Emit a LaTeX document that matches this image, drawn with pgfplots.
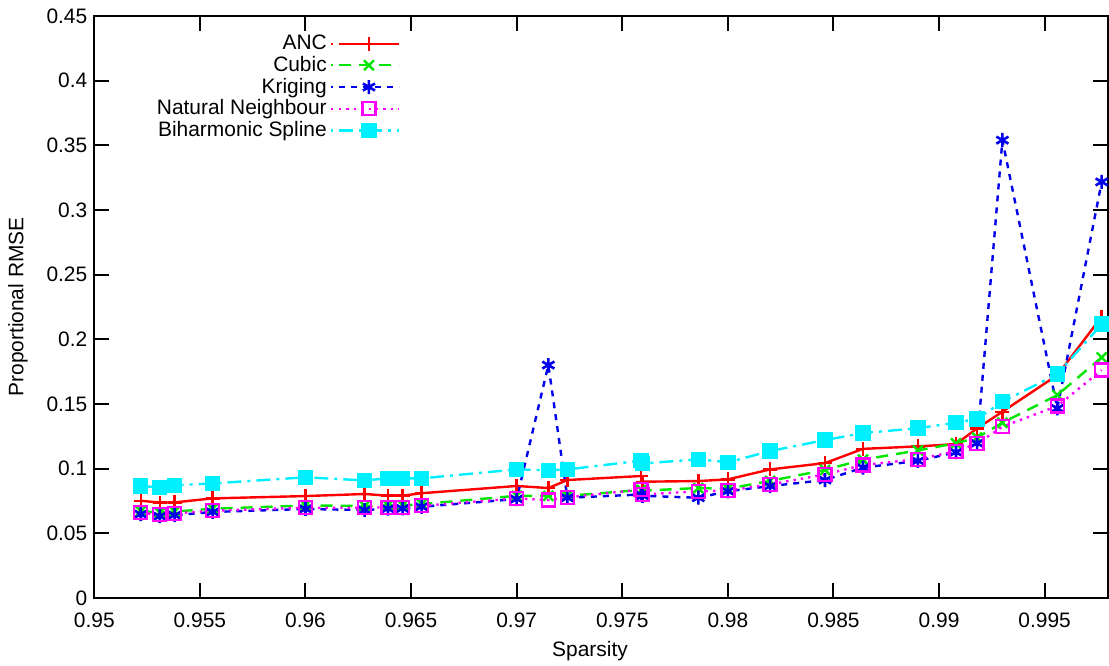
\documentclass[border=0pt]{standalone}
\usepackage{fontspec}
\setmainfont{Liberation Sans}
\usepackage{pgfplots}
\usepackage{pgfplotstable}
\pgfplotsset{compat=1.18}
\definecolor{ancred}{RGB}{255,0,0}
\definecolor{cubgreen}{RGB}{0,230,0}
\definecolor{krigblue}{RGB}{0,0,235}
\definecolor{nnmag}{RGB}{255,0,255}
\definecolor{bihcyan}{RGB}{0,240,255}

% sparsity, ANC, Cubic, Kriging, Natural Neighbour, Biharmonic Spline
\pgfplotstableread{
x       anc     cub     krig    nn      bih
0.9522  0.0752  0.0672  0.0648  0.0659  0.0866
0.9531  0.0737  0.0660  0.0632  0.0644  0.0855
0.9538  0.0739  0.0668  0.0640  0.0654  0.0871
0.9556  0.0770  0.0690  0.0665  0.0675  0.0886
0.9600  0.0788  0.0715  0.0688  0.0698  0.0933
0.9628  0.0804  0.0712  0.0680  0.0698  0.0909
0.9639  0.0791  0.0716  0.0690  0.0701  0.0925
0.9646  0.0791  0.0716  0.0692  0.0701  0.0925
0.9655  0.0810  0.0726  0.0705  0.0713  0.0925
0.9700  0.0866  0.0790  0.0765  0.0770  0.0994
0.9715  0.0850  0.0790  0.1801  0.0757  0.0987
0.9724  0.0912  0.0790  0.0775  0.0778  0.0994
0.97589 0.0943  0.0835  0.0800  0.0838  0.1062
0.97596 0.0899  0.0830  0.0790  0.0800  0.1040
0.9786  0.0904  0.0850  0.0775  0.0825  0.1072
0.9800  0.0917  0.0845  0.0825  0.0830  0.1049
0.9820  0.0994  0.0905  0.0865  0.0878  0.1136
0.9846  0.1043  0.0990  0.0912  0.0955  0.1221
0.9864  0.1153  0.1070  0.1008  0.1028  0.1275
0.9890  0.1172  0.1141  0.1060  0.1073  0.1313
0.9908  0.1190  0.1196  0.1127  0.1134  0.1355
0.9918  0.1311  0.1240  0.1196  0.1193  0.1385
0.9930  0.1440  0.1355  0.3540  0.1324  0.1517
0.9956  0.1723  0.1569  0.1466  0.1484  0.1731
0.9977  0.2174  0.1860  0.3217  0.1762  0.2117
}\datatable

\begin{document}
\begin{tikzpicture}[font=\fontsize{10.5}{12}\selectfont]
\begin{axis}[
    scale only axis,
    width=506.85bp,
    height=291bp,
    xmin=0.95, xmax=0.998,
    ymin=0, ymax=0.45,
    xtick={0.95,0.955,0.96,0.965,0.97,0.975,0.98,0.985,0.99,0.995},
    xticklabels={0.95,0.955,0.96,0.965,0.97,0.975,0.98,0.985,0.99,0.995},
    ytick={0,0.05,0.1,0.15,0.2,0.25,0.3,0.35,0.4,0.45},
    yticklabels={0,0.05,0.1,0.15,0.2,0.25,0.3,0.35,0.4,0.45},
    tick pos=both,
    tick align=inside,
    major tick length=7.5bp,
    every tick/.style={black, line width=1bp},
    axis line style={line width=1bp},
    xticklabel style={yshift=-4bp},
    xlabel={Sparsity},
    ylabel={Proportional RMSE},
    xlabel style={at={(axis description cs:0.489,-0.0911)}, anchor=center},
    ylabel style={at={(axis description cs:-0.0753,0.5)}, anchor=center},
    legend plot pos=right,
    legend cell align=right,
    legend style={at={(axis description cs:0.308,0.98)}, anchor=north east,
        draw=none, fill=none, row sep=-1.2bp,
        nodes={inner sep=1.5bp}},
    legend image code/.code={\path (0bp,0bp) -- (1bp,0bp);
        \draw[mark repeat=2,mark phase=2]
        plot coordinates {(4bp,0bp)(19bp,0bp)(34bp,0bp)};},
]
\addplot[color=ancred, line width=1.2bp, mark=+, mark size=3.5bp,
    mark options={solid, line width=1.2bp}] table[x=x,y=anc] {\datatable};
\addlegendentry{ANC}
\addplot[color=cubgreen, line width=1.2bp, dash pattern=on 6bp off 4bp,
    mark=x, mark size=3.5bp, mark options={solid, line width=1.2bp}]
    table[x=x,y=cub] {\datatable};
\addlegendentry{Cubic}
\addplot[color=krigblue, line width=1.2bp, dash pattern=on 3bp off 3bp,
    mark=asterisk, mark size=3.5bp, mark options={solid, line width=1.3bp}]
    table[x=x,y=krig] {\datatable};
\addlegendentry{Kriging}
\addplot[color=nnmag, line width=1.2bp, dash pattern=on 1.2bp off 2.5bp,
    mark=square, mark size=3.25bp, mark options={solid, line width=1.2bp}]
    table[x=x,y=nn] {\datatable};
\addlegendentry{Natural Neighbour}
\addplot[color=bihcyan, line width=1.2bp,
    dash pattern=on 7bp off 3bp on 1.5bp off 3bp,
    mark=square*, mark size=3.25bp, mark options={solid, fill=bihcyan}]
    table[x=x,y=bih] {\datatable};
\addlegendentry{Biharmonic Spline}
\end{axis}
\pgfresetboundingbox
\path (current axis.south west) ++(-47.15bp,-34bp) coordinate (bbsw);
\path (current axis.north east) ++(0.5bp,8bp) coordinate (bbne);
\useasboundingbox (bbsw) rectangle (bbne);
\end{tikzpicture}
\end{document}
